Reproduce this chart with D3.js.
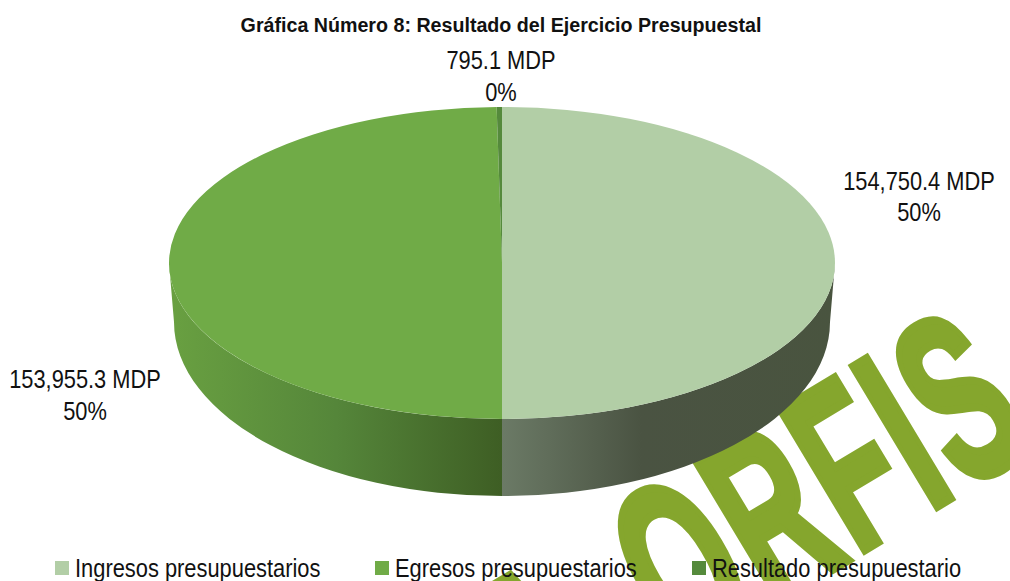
<!DOCTYPE html>
<html>
<head>
<meta charset="UTF-8">
<title>Resultado del Ejercicio Presupuestal</title>
<style>
  html, body { margin: 0; padding: 0; background: #fff; }
  svg { display: block; }
  text { font-family: "Liberation Sans", sans-serif; fill: #111; }
</style>
<script src="https://cdnjs.cloudflare.com/ajax/libs/d3/7.8.5/d3.min.js"></script>
</head>
<body>
<svg id="chart" width="1010" height="581"></svg>
<script>
var categories = ['Ingresos presupuestarios', 'Egresos presupuestarios', 'Resultado presupuestario'];
var values = [154750.4, 153955.3, 795.1];
var valueLabels = ['154,750.4 MDP', '153,955.3 MDP', '795.1 MDP'];
var percentLabels = ['50%', '50%', '0%'];
var topColors = ['#b2cea6', '#70ab47', '#558a3c'];
var title = 'Gráfica Número 8: Resultado del Ejercicio Presupuestal';
var watermarkWords = ['A', 'ORFIS'];

var svg = d3.select('#chart');

// top ellipse and the slightly narrower ellipse under the wall
var top_ = { cx: 502, cy: 263, rx: 333, ry: 156 };
var bot = { cx: 502, cy: 322, rx: 328, ry: 174 };

function px(e, a) { return e.cx + e.rx * Math.sin(a); }
function py(e, a) { return e.cy - e.ry * Math.cos(a); }

var pie = d3.pie().sort(null).value(function(d) { return d; });
var slices = pie(values);

// Watermark sits behind the chart, only partly on the page.
// Tall heavy face: squeeze Liberation Sans Bold and thicken it with a stroke
var watermarkPos = [[546, 744], [680, 661]];
watermarkWords.forEach(function(w, i) {
  svg.append('text')
    .text(w)
    .attr('transform', 'translate(' + watermarkPos[i] + ') rotate(-31) scale(0.55,1)')
    .attr('vector-effect', 'non-scaling-stroke')
    .style('font-weight', 'bold')
    .style('font-size', '237px')
    .style('letter-spacing', '9px')
    .style('fill', '#85a62d')
    .style('stroke', '#85a62d')
    .style('stroke-width', '7px');
});

// Wall gradients
var defs = svg.append('defs');
function gradient(id, x1, x2, stops) {
  var g = defs.append('linearGradient')
    .attr('id', id)
    .attr('gradientUnits', 'userSpaceOnUse')
    .attr('x1', x1).attr('x2', x2).attr('y1', 0).attr('y2', 0);
  stops.forEach(function(s) {
    g.append('stop').attr('offset', s[0]).attr('stop-color', s[1]);
  });
}
gradient('wall0', 502, 835, [[0, '#6b7a66'], [0.42, '#4a5342'], [1, '#49543f']]);
gradient('wall1', 170, 502, [[0, '#69a041'], [0.5, '#55863a'], [1, '#3e5e24']]);
var wallFills = ['url(#wall0)', 'url(#wall1)', 'none'];

// Side wall, front half only
slices.forEach(function(s, i) {
  var a0 = Math.max(s.startAngle, Math.PI / 2);
  var a1 = Math.min(s.endAngle, Math.PI * 1.5);
  if (a1 <= a0) return;
  var p = 'M' + px(top_, a0) + ',' + py(top_, a0) +
    'A' + top_.rx + ',' + top_.ry + ' 0 0 1 ' + px(top_, a1) + ',' + py(top_, a1) +
    'L' + px(bot, a1) + ',' + py(bot, a1) +
    'A' + bot.rx + ',' + bot.ry + ' 0 0 0 ' + px(bot, a0) + ',' + py(bot, a0) + 'Z';
  svg.append('path').attr('d', p).attr('fill', wallFills[i]);
});

// Top of the pie: big arc squashed into the ellipse (a unit radius rounds badly)
var R = 10000;
var arc = d3.arc().innerRadius(0).outerRadius(R);
svg.append('g')
  .attr('transform', 'translate(' + top_.cx + ',' + top_.cy + ') scale(' + top_.rx / R + ',' + top_.ry / R + ')')
  .selectAll('path')
  .data(slices)
  .enter().append('path')
  .attr('d', arc)
  .attr('fill', function(d, i) { return topColors[i]; });

// Narrow text: the reference face is condensed, so squeeze Liberation Sans
function narrowText(t, x, y, size, sx, anchor, weight) {
  return svg.append('text')
    .text(t)
    .attr('transform', 'translate(' + x + ',' + y + ') scale(' + sx + ',1)')
    .attr('text-anchor', anchor)
    .style('font-size', size + 'px')
    .style('font-weight', weight);
}

// Title
narrowText(title, 501, 32, 21, 0.936, 'middle', 'bold');

// Data labels
var labelPos = [[919, 190, 221], [85, 388, 420], [501, 69, 101]];
valueLabels.forEach(function(t, i) {
  narrowText(t, labelPos[i][0], labelPos[i][1], 26, 0.84, 'middle', 'normal');
  narrowText(percentLabels[i], labelPos[i][0], labelPos[i][2], 26, 0.84, 'middle', 'normal');
});

// Legend
var legendX = [55, 375, 692];
categories.forEach(function(c, i) {
  svg.append('rect')
    .attr('x', legendX[i]).attr('y', 561)
    .attr('width', 14).attr('height', 14)
    .attr('fill', topColors[i]);
  narrowText(c, legendX[i] + 20, 577, 25, 0.875, 'start', 'normal');
});
</script>
</body>
</html>
